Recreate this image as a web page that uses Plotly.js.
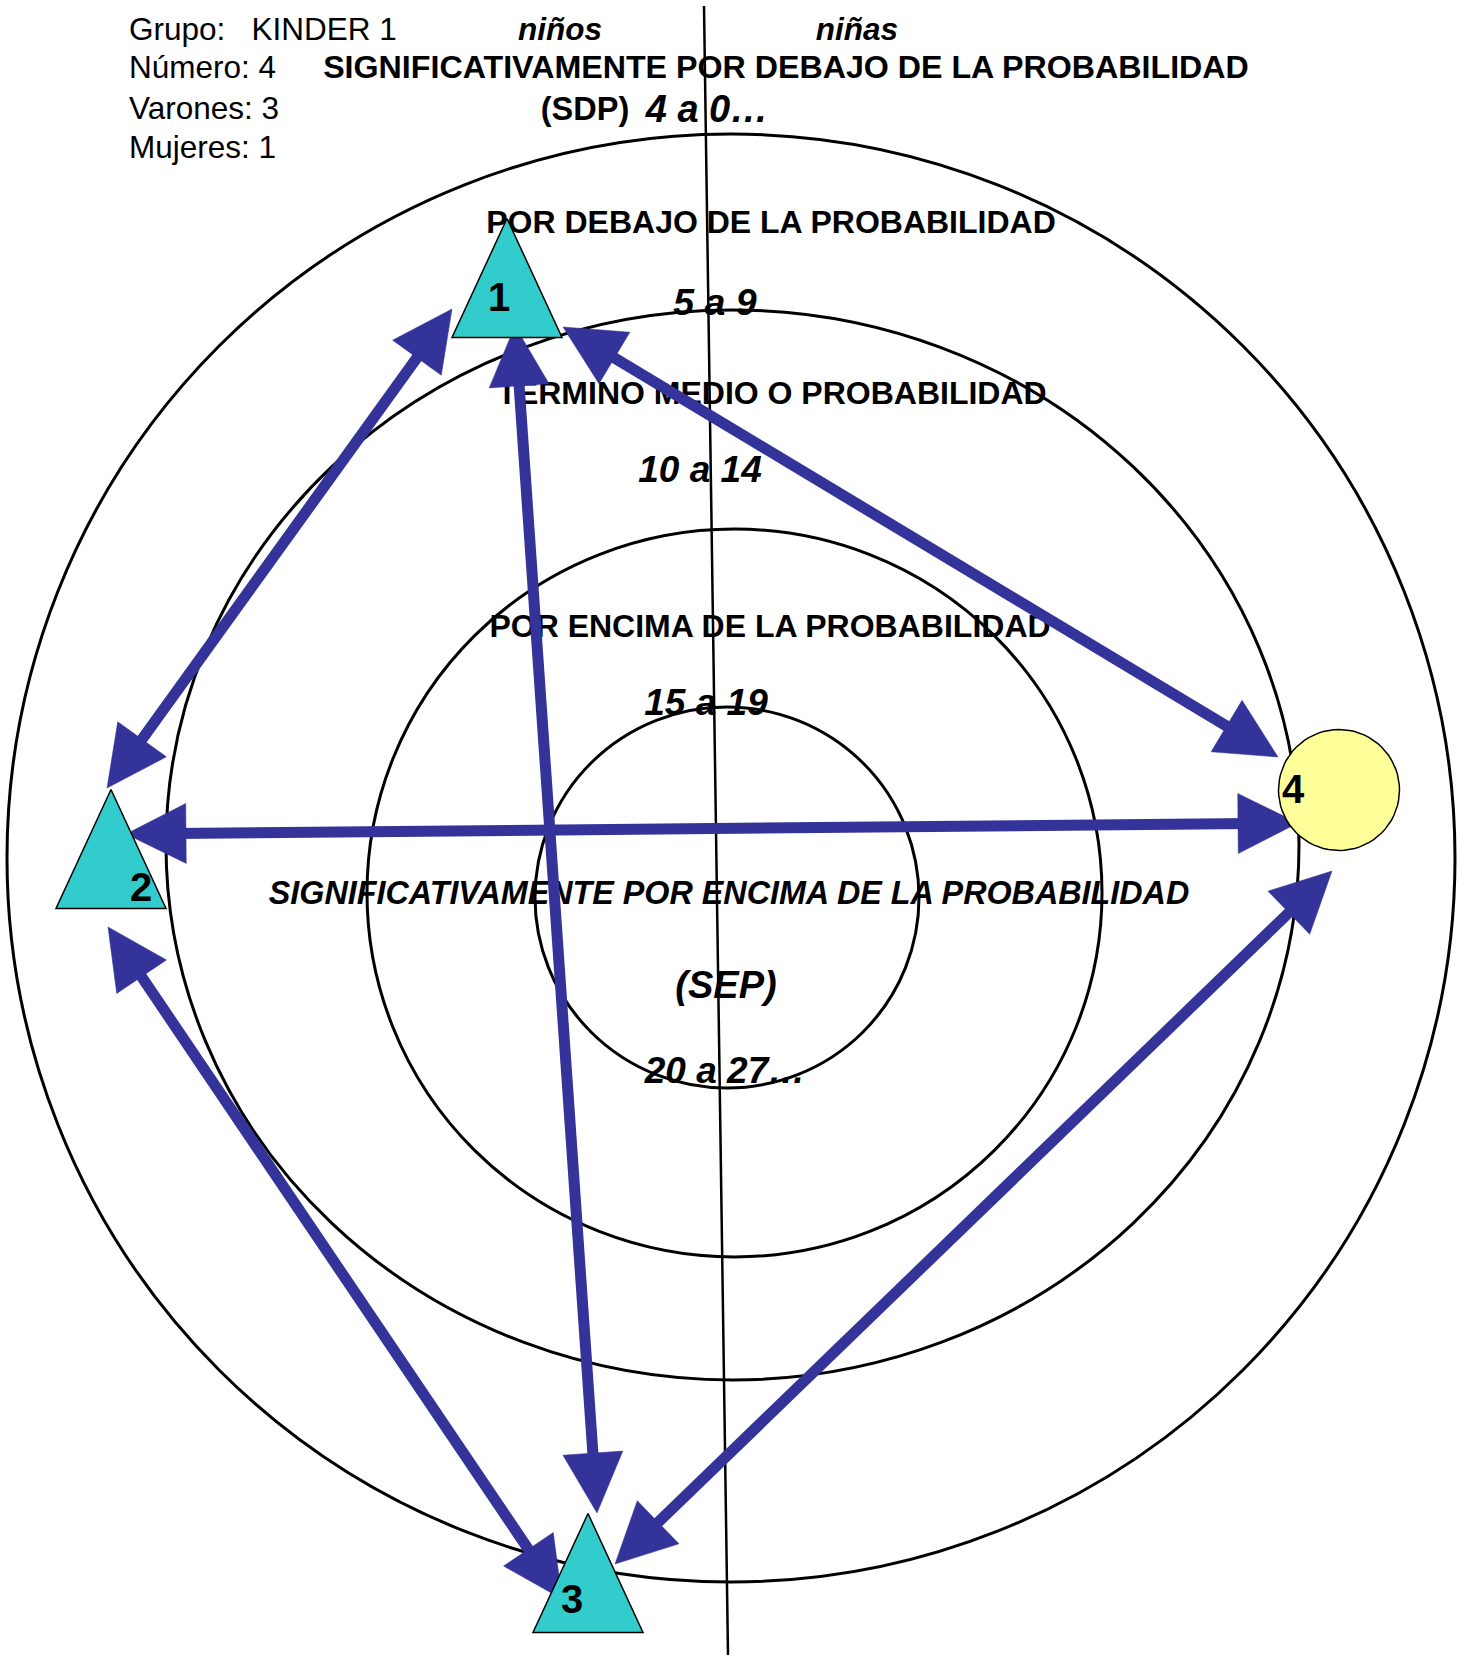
<!DOCTYPE html>
<html>
<head>
<meta charset="utf-8">
<script src="https://cdn.plot.ly/plotly-3.0.1.min.js"></script>
<style>html,body{margin:0;padding:0;background:#fff;}#chart{width:1460px;height:1655px;}</style>
</head>
<body>
<div id="chart"></div>
<script>
// ---------------- data ----------------
const headerText = ['Grupo:\u00a0\u00a0\u00a0KINDER 1', 'Número: 4', 'Varones: 3', 'Mujeres: 1'];
const headerX = [129, 129, 129, 129];
const headerY = [32, 70, 111, 150];

const sideLabels = ['niños', 'niñas'];
const sideX = [560, 857];
const sideY = [32, 32];

// zone names (outer to inner), abbreviations and score ranges
const zoneNames = ['SIGNIFICATIVAMENTE POR DEBAJO DE LA PROBABILIDAD', 'POR DEBAJO DE LA PROBABILIDAD',
                   'TERMINO MEDIO O PROBABILIDAD', 'POR ENCIMA DE LA PROBABILIDAD',
                   'SIGNIFICATIVAMENTE POR ENCIMA DE LA PROBABILIDAD'];
const zoneNameX = [786, 771, 772, 770, 729];
const zoneNameY = [70, 225, 396, 629, 896];
const zoneAbbr = ['(SDP)', '(SEP)'];
const zoneAbbrX = [585, 726];
const zoneAbbrY = [112, 988];
const zoneRanges = ['4 a 0…', '5 a 9', '10 a 14', '15 a 19', '20 a 27…'];
const zoneRangeX = [707, 715, 700, 706, 725];
const zoneRangeY = [112, 306, 473, 706, 1074];

// ring boundaries (left, right, top, bottom)
const ringX0 = [7, 166, 367, 535];
const ringX1 = [1455, 1299, 1102, 919];
const ringY0 = [134, 310, 529, 707];
const ringY1 = [1582, 1380, 1257, 1088];

// divider between niños / niñas
const dividerX = [704, 728];
const dividerY = [6, 1655];

// children (sociogram nodes)
const nodeIds = ['1', '2', '3', '4'];
const nodeKind = ['niño', 'niño', 'niño', 'niña'];
const nodeX = [507, 111, 588, 1339];
const nodeY = [278, 849, 1573, 790];
const nodeLabelX = [499, 141, 572, 1293];
const nodeLabelY = [301, 891, 1603, 793];

// mutual choices (double-headed arrows): tip near first child, tip near second child
const edgeFrom = [1, 1, 1, 2, 2, 4];
const edgeTo   = [2, 3, 4, 4, 3, 3];
const edgeStartX = [452, 515, 563, 126, 108, 1332];
const edgeStartY = [309, 326, 327, 834, 927, 871];
const edgeEndX   = [107, 597, 1278, 1298, 562, 615];
const edgeEndY   = [788, 1513, 757, 823, 1599, 1564];

// ---------------- styles ----------------
const FONT = 'Liberation Sans, Arial, sans-serif';
const BLUE = '#333399';
const TRI_W = 110, TRI_H = 119, CIRC_R = 60.5;
const HEAD_L = 60, HEAD_W = 60, SHAFT_W = 11;

const traces = [];

// header texts
traces.push({type: 'scatter', mode: 'text', x: headerX, y: headerY, text: headerText,
  textposition: 'middle right', textfont: {family: FONT, size: 31.5, color: '#000'}, hoverinfo: 'skip', showlegend: false});
traces.push({type: 'scatter', mode: 'text', x: sideX, y: sideY, text: sideLabels.map(t => '<b><i>' + t + '</i></b>'),
  textposition: 'middle center', textfont: {family: FONT, size: 31.5, color: '#000'}, hoverinfo: 'skip', showlegend: false});

// zone names
traces.push({type: 'scatter', mode: 'text', x: zoneNameX, y: zoneNameY,
  text: zoneNames.map((t, i) => i === 4 ? '<b><i>' + t + '</i></b>' : '<b>' + t + '</b>'),
  textposition: 'middle center', textfont: {family: FONT, size: [32.2, 32, 32, 32, 32.3], color: '#000'},
  hoverinfo: 'skip', showlegend: false});
traces.push({type: 'scatter', mode: 'text', x: zoneAbbrX, y: zoneAbbrY,
  text: zoneAbbr.map((t, i) => i === 0 ? '<b>' + t + '</b>' : '<b><i>' + t + '</i></b>'),
  textposition: 'middle center', textfont: {family: FONT, size: [32.5, 38], color: '#000'},
  hoverinfo: 'skip', showlegend: false});
traces.push({type: 'scatter', mode: 'text', x: zoneRangeX, y: zoneRangeY,
  text: zoneRanges.map(t => '<b><i>' + t + '</i></b>'),
  textposition: 'middle center', textfont: {family: FONT, size: [38, 37.5, 37, 37, 37], color: '#000'},
  hoverinfo: 'skip', showlegend: false});

// arrows
function headPoly(tx, ty, ux, uy) {
  const bx = tx - ux * HEAD_L, by = ty - uy * HEAD_L;
  const nx = -uy, ny = ux;
  return {x: [tx, bx + nx * HEAD_W / 2, bx - nx * HEAD_W / 2, tx],
          y: [ty, by + ny * HEAD_W / 2, by - ny * HEAD_W / 2, ty]};
}
for (let i = 0; i < edgeFrom.length; i++) {
  const x1 = edgeStartX[i], y1 = edgeStartY[i], x2 = edgeEndX[i], y2 = edgeEndY[i];
  const dx = x2 - x1, dy = y2 - y1, len = Math.hypot(dx, dy);
  const ux = dx / len, uy = dy / len;
  traces.push({type: 'scatter', mode: 'lines',
    x: [x1 + ux * HEAD_L * 0.8, x2 - ux * HEAD_L * 0.8],
    y: [y1 + uy * HEAD_L * 0.8, y2 - uy * HEAD_L * 0.8],
    line: {color: BLUE, width: SHAFT_W}, hoverinfo: 'skip', showlegend: false});
  const h1 = headPoly(x1, y1, -ux, -uy), h2 = headPoly(x2, y2, ux, uy);
  [h1, h2].forEach(h => traces.push({type: 'scatter', mode: 'lines', x: h.x, y: h.y, fill: 'toself',
    fillcolor: BLUE, line: {color: BLUE, width: 0.5}, hoverinfo: 'skip', showlegend: false}));
}

// nodes
for (let i = 0; i < nodeIds.length; i++) {
  const cx = nodeX[i], cy = nodeY[i];
  let xs = [], ys = [], fill;
  if (nodeKind[i] === 'niño') {
    xs = [cx, cx + TRI_W / 2, cx - TRI_W / 2, cx];
    ys = [cy - TRI_H / 2, cy + TRI_H / 2, cy + TRI_H / 2, cy - TRI_H / 2];
    fill = '#33CCCC';
  } else {
    for (let k = 0; k <= 72; k++) {
      const a = k / 72 * 2 * Math.PI;
      xs.push(cx + CIRC_R * Math.cos(a)); ys.push(cy + CIRC_R * Math.sin(a));
    }
    fill = '#FFFF99';
  }
  traces.push({type: 'scatter', mode: 'lines', x: xs, y: ys, fill: 'toself', fillcolor: fill,
    line: {color: '#000', width: 1.5}, hoverinfo: 'skip', showlegend: false});
}
traces.push({type: 'scatter', mode: 'text', x: nodeLabelX, y: nodeLabelY, text: nodeIds.map(t => '<b>' + t + '</b>'),
  textposition: 'middle center', textfont: {family: FONT, size: 40, color: '#000'}, hoverinfo: 'skip', showlegend: false});

// rings and divider as shapes below traces
const shapes = [];
for (let i = 0; i < ringX0.length; i++) {
  shapes.push({type: 'circle', xref: 'x', yref: 'y', x0: ringX0[i], x1: ringX1[i], y0: ringY0[i], y1: ringY1[i],
    line: {color: '#000', width: 3}, fillcolor: 'rgba(0,0,0,0)', layer: 'below'});
}
shapes.push({type: 'line', xref: 'x', yref: 'y', x0: dividerX[0], x1: dividerX[1], y0: dividerY[0], y1: dividerY[1],
  line: {color: '#000', width: 2.5}, layer: 'below'});

const layout = {
  width: 1460, height: 1655,
  margin: {l: 0, r: 0, t: 0, b: 0, pad: 0},
  paper_bgcolor: '#fff', plot_bgcolor: '#fff',
  xaxis: {range: [0, 1460], visible: false, fixedrange: true},
  yaxis: {range: [1655, 0], visible: false, fixedrange: true},
  shapes: shapes,
  showlegend: false,
  font: {family: FONT}
};
Plotly.newPlot('chart', traces, layout, {displayModeBar: false, staticPlot: true});
</script>
</body>
</html>
